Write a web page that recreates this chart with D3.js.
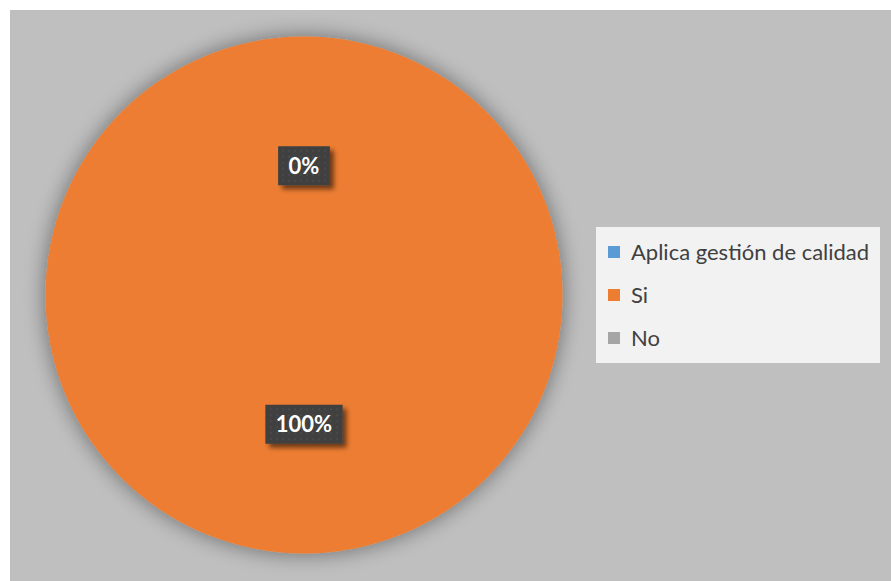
<!DOCTYPE html>
<html>
<head>
<meta charset="utf-8">
<script src="https://cdn.jsdelivr.net/npm/d3@7"></script>
<style>
  html, body { margin: 0; padding: 0; background: #ffffff; }
  svg { display: block; }
</style>
</head>
<body>
<svg id="chart" width="891" height="581"></svg>
<script>
// ---- data ----
const categories = ["Aplica gestión de calidad", "Si", "No"];
const values = [null, 100, 0];
const colors = ["#5b9bd5", "#ed7d31", "#a5a5a5"];

const W = 891, H = 581;
const svg = d3.select("#chart");

const defs = svg.append("defs");
const pieShadow = defs.append("filter").attr("id", "pieShadow")
  .attr("x", "-20%").attr("y", "-20%").attr("width", "140%").attr("height", "140%");
pieShadow.append("feGaussianBlur").attr("in", "SourceAlpha").attr("stdDeviation", 11).attr("result", "b");
pieShadow.append("feOffset").attr("in", "b").attr("dx", 0).attr("dy", 0).attr("result", "o");
pieShadow.append("feComponentTransfer").attr("in", "o").attr("result", "s")
  .append("feFuncA").attr("type", "linear").attr("slope", 0.45);
const m1 = pieShadow.append("feMerge");
m1.append("feMergeNode").attr("in", "s");
m1.append("feMergeNode").attr("in", "SourceGraphic");

const boxShadow = defs.append("filter").attr("id", "boxShadow")
  .attr("x", "-30%").attr("y", "-30%").attr("width", "160%").attr("height", "170%");
boxShadow.append("feGaussianBlur").attr("in", "SourceAlpha").attr("stdDeviation", 2.5).attr("result", "b");
boxShadow.append("feOffset").attr("in", "b").attr("dx", 4).attr("dy", 4).attr("result", "o");
boxShadow.append("feComponentTransfer").attr("in", "o").attr("result", "s")
  .append("feFuncA").attr("type", "linear").attr("slope", 0.55);
const m2 = boxShadow.append("feMerge");
m2.append("feMergeNode").attr("in", "s");
m2.append("feMergeNode").attr("in", "SourceGraphic");

const dots = defs.append("pattern").attr("id", "dots")
  .attr("width", 6).attr("height", 6).attr("patternUnits", "userSpaceOnUse");
dots.append("rect").attr("width", 6).attr("height", 6).attr("fill", "#404040");
dots.append("circle").attr("cx", 3).attr("cy", 3).attr("r", 1.1).attr("fill", "#4a4a4a");

// background panel
svg.append("rect").attr("x", 10).attr("y", 10).attr("width", W - 10).attr("height", H - 10)
  .attr("fill", "#bfbfbf");

// pie
const cx = 304, cy = 295, r = 258.5;
const data = categories.map((c, i) => ({ cat: c, value: values[i], color: colors[i] }));
const pie = d3.pie().sort(null).value(d => d.value == null ? 0 : d.value).startAngle(0).endAngle(2 * Math.PI);
const arcs = pie(data);
const arc = d3.arc().innerRadius(0).outerRadius(r);
const labelArc = d3.arc().innerRadius(r * 0.5).outerRadius(r * 0.5);
const total = d3.sum(data, d => d.value || 0);

const g = svg.append("g").attr("transform", `translate(${cx},${cy})`);
g.append("g").attr("filter", "url(#pieShadow)")
  .selectAll("path").data(arcs).join("path")
  .attr("d", arc)
  .attr("fill", d => d.data.color);

const fmt = d3.format(".0%");
const labels = g.selectAll("g.lbl").data(arcs.filter(d => d.data.value != null)).join("g")
  .attr("class", "lbl")
  .attr("transform", d => { const [x, y] = labelArc.centroid(d); return `translate(${x},${y})`; });

labels.each(function(d) {
  const sel = d3.select(this);
  const txt = fmt(d.data.value / total);
  const t = sel.append("text")
    .attr("text-anchor", "middle").attr("dy", "0.36em")
    .attr("font-family", "Lato, 'Open Sans', sans-serif").attr("font-weight", "bold")
    .attr("font-size", 22).attr("fill", "#ffffff").text(txt);
  const w = t.node().getComputedTextLength();
  const bw = w + 21, bh = 39;
  sel.insert("rect", "text")
    .attr("x", -bw / 2).attr("y", -bh / 2).attr("width", bw).attr("height", bh)
    .attr("fill", "url(#dots)").attr("filter", "url(#boxShadow)");
});

// legend
const lg = svg.append("g");
lg.append("rect").attr("x", 596).attr("y", 227).attr("width", 284).attr("height", 136).attr("fill", "#f2f2f2");
const ly = d3.scalePoint().domain(categories).range([252, 338]);
const items = lg.selectAll("g.item").data(data).join("g").attr("class", "item")
  .attr("transform", d => `translate(608,${ly(d.cat)})`);
items.append("rect").attr("x", 0).attr("y", -6).attr("width", 12).attr("height", 12).attr("fill", d => d.color);
items.append("text").attr("x", 23).attr("dy", "0.35em")
  .attr("font-family", "Lato, 'Open Sans', sans-serif").attr("font-size", 22)
  .attr("fill", "#404040").text(d => d.cat);
</script>
</body>
</html>
